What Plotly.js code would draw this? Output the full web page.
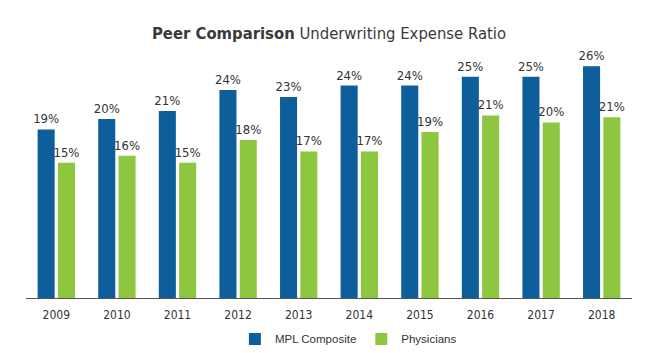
<!DOCTYPE html>
<html>
<head>
<meta charset="utf-8">
<script src="https://cdn.plot.ly/plotly-3.0.1.min.js"></script>
<style>html,body{margin:0;padding:0;background:#fff;}#chart{width:661px;height:353px;}</style>
</head>
<body>
<div id="chart"></div>
<script>
const years = ['2009','2010','2011','2012','2013','2014','2015','2016','2017','2018'];
const mplComposite = [19.2, 20.4, 21.3, 23.7, 22.9, 24.2, 24.2, 25.2, 25.2, 26.4];
const physicians = [15.4, 16.2, 15.4, 18.0, 16.7, 16.7, 18.9, 20.8, 20.0, 20.6];
const mplLabels = ['19%','20%','21%','24%','23%','24%','24%','25%','25%','26%'];
const physLabels = ['15%','16%','15%','18%','17%','17%','19%','21%','20%','21%'];

const narrow = '"Liberation Sans Narrow", "DejaVu Sans Condensed", "Arial Narrow", sans-serif';

const traces = [
  {type:'bar', name:'MPL Composite', x:years, y:mplComposite, text:mplLabels,
   textposition:'outside', cliponaxis:false, constraintext:'none', marker:{color:'#0f5e9c'},
   textfont:{family:narrow, size:13, color:'#333333'}, hoverinfo:'x+y'},
  {type:'bar', name:'Physicians', x:years, y:physicians, text:physLabels,
   textposition:'outside', cliponaxis:false, constraintext:'none', marker:{color:'#8dc63f'},
   textfont:{family:narrow, size:13, color:'#333333'}, hoverinfo:'x+y'}
];

const layout = {
  width:661, height:353,
  margin:{l:26, r:29, t:50, b:55, autoexpand:false},
  paper_bgcolor:'#ffffff', plot_bgcolor:'#ffffff',
  barmode:'group', bargap:0.33, bargroupgap:0.16,
  title:{text:'<b>Peer Comparison</b> Underwriting Expense Ratio',
    font:{family:narrow, size:16.5, color:'#3a3a3a'},
    x:0.5, xanchor:'center', xref:'paper', y:0.905, yref:'container', yanchor:'middle'},
  xaxis:{type:'category', showline:true, linecolor:'#555555', linewidth:1,
    ticks:'', ticklabelstandoff:6, tickfont:{family:narrow, size:12, color:'#333333'},
    showgrid:false, zeroline:false},
  yaxis:{range:[0, 28.25], visible:false, showgrid:false, zeroline:false},
  showlegend:true,
  legend:{orientation:'h', x:0.532, xanchor:'center', y:-0.165, yanchor:'middle',
    font:{family:'"Liberation Sans", Arial, sans-serif', size:11.5, color:'#333333'},
    itemwidth:30, tracegroupgap:0, traceorder:'normal'},
  font:{family:narrow}
};

Plotly.newPlot('chart', traces, layout, {displayModeBar:false, staticPlot:true});
</script>
</body>
</html>
